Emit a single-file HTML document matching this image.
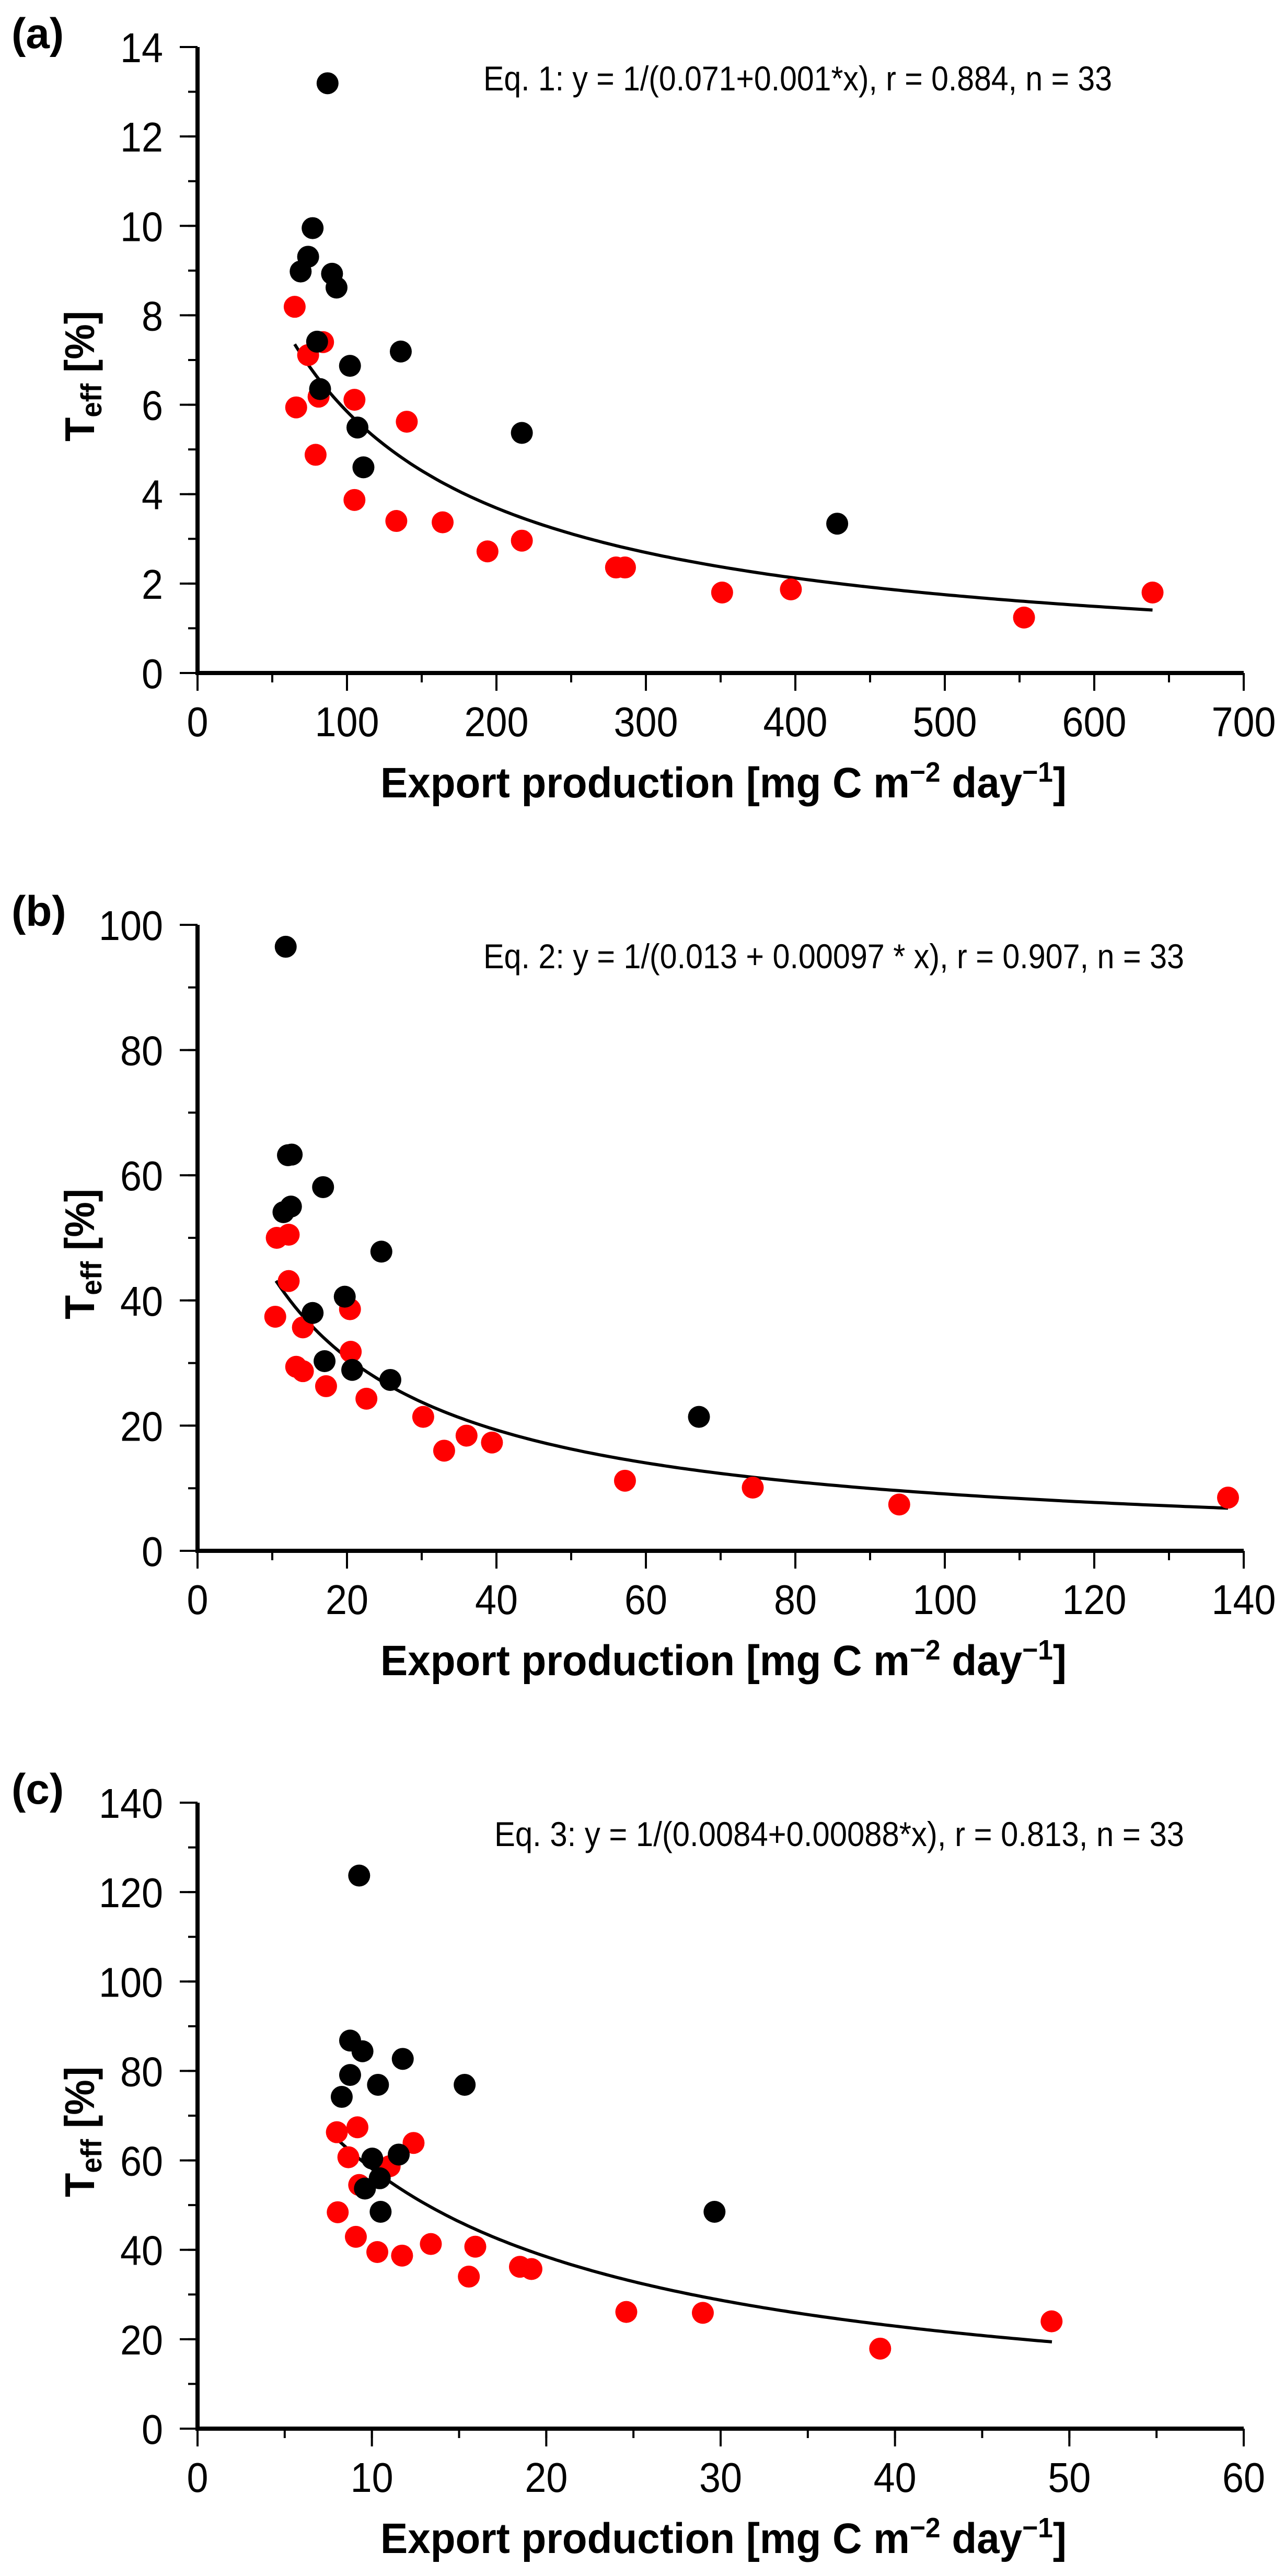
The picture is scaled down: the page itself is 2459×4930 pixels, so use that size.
<!DOCTYPE html>
<html><head><meta charset="utf-8"><style>
html,body{margin:0;padding:0;background:#fff;}
svg{display:block;}
text{font-family:"Liberation Sans Narrow","Liberation Sans",sans-serif;fill:#000;}
.b{font-weight:bold;}
</style></head><body>
<svg id="fig" width="2459" height="4930" viewBox="0 0 2459 4930" xmlns="http://www.w3.org/2000/svg"></svg>
<script>
// Panel (a)
const aBlackX=[87,77,74,69,90,93,80,102,136,82,107,111,217,428];
const aBlackY=[13.19,9.95,9.31,8.98,8.93,8.62,7.41,6.87,7.19,6.35,5.49,4.6,5.37,3.34];
const aRedX=[65,74,84,66,81,105,140,79,105,133,164,194,217,280,286,351,397,553,639];
const aRedY=[8.19,7.11,7.40,5.94,6.18,6.11,5.62,4.88,3.87,3.40,3.37,2.72,2.96,2.36,2.36,1.80,1.87,1.24,1.80];
const aFit=[0.071,0.001];
const aXTicks=[0,100,200,300,400,500,600,700];
const aYTicks=[0,2,4,6,8,10,12,14];
// Panel (b)
const bBlackX=[11.8,12.1,12.6,16.8,11.5,12.5,24.6,19.7,15.4,17.0,20.7,25.8,67.1];
const bBlackY=[96.5,63.2,63.3,58.1,54.1,55.0,47.8,40.6,38.0,30.3,28.9,27.3,21.4];
const bRedX=[10.6,12.2,12.2,10.4,20.4,14.1,20.5,13.2,14.1,17.2,22.6,30.2,33.0,36.0,39.4,57.2,74.3,93.9,137.9];
const bRedY=[50.0,50.5,43.1,37.4,38.6,35.7,31.8,29.4,28.7,26.3,24.3,21.4,16.0,18.4,17.3,11.2,10.1,7.4,8.5];
const bFit=[0.013,0.00097];
const bXTicks=[0,20,40,60,80,100,120,140];
const bYTicks=[0,20,40,60,80,100];
// Panel (c)
const cBlackX=[9.27,8.75,9.46,11.77,8.75,8.27,10.35,15.32,10.02,11.54,10.45,9.6,10.5,29.65];
const cBlackY=[123.7,86.8,84.4,82.7,79.1,74.2,76.9,76.9,60.4,61.3,56.0,53.7,48.5,48.5];
const cRedX=[7.99,9.17,8.65,9.27,11.02,12.39,8.04,9.08,10.31,11.73,13.38,15.93,15.56,18.49,19.15,24.59,28.98,39.15,48.98];
const cRedY=[66.3,67.4,60.7,54.5,58.7,63.9,48.4,42.9,39.5,38.7,41.3,40.7,34.0,36.2,35.7,26.1,25.9,17.9,24.0];
const cFit=[0.0084,0.00088];
const cXTicks=[0,10,20,30,40,50,60];
const cYTicks=[0,20,40,60,80,100,120,140];

const NS="http://www.w3.org/2000/svg";
const svg=document.getElementById('fig');
function mk(tag,attrs,parent){const e=document.createElementNS(NS,tag);for(const k in attrs)e.setAttribute(k,attrs[k]);(parent||svg).appendChild(e);return e;}

function panel(o){
  const g=mk('g',{});
  
  
  const X0=378,X1=2380,Y0=o.y0,Y1=o.y0-1198;
  const sx=v=>X0+v/o.xmax*(X1-X0);
  const sy=v=>Y0-v/o.ymax*(Y0-Y1);
  for(let v=0;v<=o.xmax+1e-9;v+=o.xminor){const t=mk('line',{x1:sx(v),x2:sx(v),y1:Y0,y2:Y0+18,stroke:'#000','stroke-width':4},g);}
  for(let v=0;v<=o.ymax+1e-9;v+=o.yminor){const t=mk('line',{x1:X0-18,x2:X0,y1:sy(v),y2:sy(v),stroke:'#000','stroke-width':4},g);}
  o.xt.forEach(v=>{
    const t=mk('line',{x1:sx(v),x2:sx(v),y1:Y0,y2:Y0+34,stroke:'#000','stroke-width':4},g);
    
    
    const s=String(v);
    const l=mk('text',{x:sx(v),y:Y0+121,'font-size':80,'text-anchor':'middle',textLength:s.length*41,lengthAdjust:'spacingAndGlyphs'},g);l.textContent=s;
    
    
  });
  o.yt.forEach(v=>{
    const t=mk('line',{x1:X0-34,x2:X0,y1:sy(v),y2:sy(v),stroke:'#000','stroke-width':4},g);
    
    
    const s=String(v);
    const l=mk('text',{x:312,y:sy(v)+29,'font-size':80,'text-anchor':'end',textLength:s.length*41,lengthAdjust:'spacingAndGlyphs'},g);l.textContent=s;
    
    
  });
  const ax=mk('path',{d:`M${X0} ${Y1} L${X0} ${Y0} L${X1} ${Y0}`,fill:'none',stroke:'#000','stroke-width':8},g);
  
  
  let d='';const xa=o.fitFrom,xb=o.fitTo;
  for(let i=0;i<=200;i++){const x=xa+(xb-xa)*i/200;const y=1/(o.fit[0]+o.fit[1]*x);d+=(i?'L':'M')+sx(x).toFixed(1)+' '+sy(y).toFixed(1);}
  const c=mk('path',{d:d,fill:'none',stroke:'#000','stroke-width':6},g);
  
  
  o.rx.forEach((x,i)=>{const p=mk('circle',{cx:sx(x),cy:sy(o.ry[i]),r:21,fill:'#ff0000'},g);
    
    });
  o.bx.forEach((x,i)=>{const p=mk('circle',{cx:sx(x),cy:sy(o.by[i]),r:21,fill:'#000'},g);
    
    });
  const eq=mk('text',{x:o.eqx,y:Y1+83,'font-size':66,textLength:o.eqw,lengthAdjust:'spacingAndGlyphs'},g);eq.textContent=o.eq;
  
  
  const xt=mk('text',{x:728,y:Y0+238,'font-size':82,'class':'b',textLength:1313,lengthAdjust:'spacingAndGlyphs'},g);
  xt.innerHTML='Export production [mg C m<tspan dy="-30" font-size="54">−2</tspan><tspan dy="30"> day</tspan><tspan dy="-30" font-size="54">−1</tspan><tspan dy="30">]</tspan>';
  
  
  const yt=mk('text',{transform:`translate(180 ${Y1+755}) rotate(-90)`,'font-size':80,'class':'b',textLength:250,lengthAdjust:'spacingAndGlyphs'},g);
  yt.innerHTML='T<tspan dy="14" font-size="56">eff</tspan><tspan dy="-14"> [%]</tspan>';
  
  
  const pl=mk('text',{x:22,y:Y1+2,'font-size':82,'class':'b'},g);pl.textContent='('+o.id+')';
  
  
}
panel({id:'a',y0:1288,xmax:700,ymax:14,xminor:50,yminor:1,xt:aXTicks,yt:aYTicks,bx:aBlackX,by:aBlackY,rx:aRedX,ry:aRedY,fit:aFit,fitFrom:65,fitTo:639,eq:'Eq. 1: y = 1/(0.071+0.001*x), r = 0.884, n = 33',eqx:925,eqw:1203});
panel({id:'b',y0:2968,xmax:140,ymax:100,xminor:10,yminor:10,xt:bXTicks,yt:bYTicks,bx:bBlackX,by:bBlackY,rx:bRedX,ry:bRedY,fit:bFit,fitFrom:10.5,fitTo:137.9,eq:'Eq. 2: y = 1/(0.013 + 0.00097 * x), r = 0.907, n = 33',eqx:925,eqw:1341});
panel({id:'c',y0:4648,xmax:60,ymax:140,xminor:5,yminor:10,xt:cXTicks,yt:cYTicks,bx:cBlackX,by:cBlackY,rx:cRedX,ry:cRedY,fit:cFit,fitFrom:8.1,fitTo:49,eq:'Eq. 3: y = 1/(0.0084+0.00088*x), r = 0.813, n = 33',eqx:946,eqw:1320});
</script>
</body></html>
